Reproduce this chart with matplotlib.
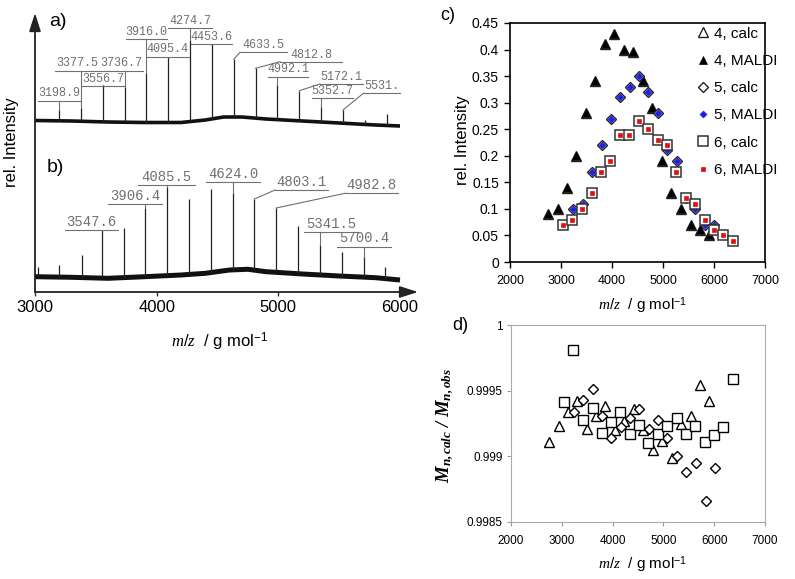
import numpy as np
import matplotlib
matplotlib.use('Agg')
import matplotlib.pyplot as plt
from matplotlib.ticker import FuncFormatter, MultipleLocator

plt.rcParams['font.family'] = ['Liberation Sans', 'DejaVu Sans']
plt.rcParams['mathtext.fontset'] = 'custom'
plt.rcParams['mathtext.rm'] = 'Liberation Sans'
plt.rcParams['mathtext.it'] = 'Liberation Serif:italic'
plt.rcParams['mathtext.bf'] = 'Liberation Serif:italic:bold'

# ---------------- data: spectra (a) and (b) ----------------
spec_a_base_mz = [3000, 3300, 3600, 3900, 4200, 4400, 4550, 4700, 4900, 5200, 5500, 5800, 6000]
spec_a_base = [171.5, 171, 170, 169.5, 169.5, 172, 175, 175, 173, 171, 169, 167, 166]
spec_a_peak_mz = [3198.9, 3377.5, 3556.7, 3736.7, 3916.0, 4095.4, 4274.7, 4453.6,
                  4633.5, 4812.8, 4992.1, 5172.1, 5352.7, 5531.0, 5710, 5890]
spec_a_peak_top = [182, 183.7, 207, 205.3, 218.7, 235.3, 252, 248,
                   232.7, 223.7, 207, 201.3, 185.3, 182, 172, 178]

spec_b_base_mz = [3000, 3300, 3600, 3900, 4200, 4400, 4600, 4750, 4900, 5200, 5500, 5800, 6000]
spec_b_base = [15.3, 14.7, 13.7, 15.3, 17, 18.7, 22, 22.7, 20.3, 18, 16, 14.3, 12]
spec_b_peak_mz = [3022, 3200, 3384, 3547.6, 3734, 3906.4, 4085.5, 4265, 4445,
                  4624.0, 4803.1, 4982.8, 5162, 5341.5, 5521, 5700.4, 5880]
spec_b_peak_top = [25, 27, 37, 62, 64, 84, 105, 93, 103, 99, 93, 84, 66, 47, 40, 35, 25]

# peak labels (text) with their label-bar extent (layout)
labels_a = ["3198.9", "3377.5", "3736.7", "3556.7", "3916.0", "4095.4", "4274.7",
            "4453.6", "4633.5", "4812.8", "4992.1", "5172.1", "5352.7", "5531."]
labels_a_x0 = [3022, 3164, 3530, 3384, 3748, 3918, 4096, 4279, 4685, 5014, 4912, 5342, 5274, 5699]
labels_a_x1 = [3370, 3530, 3890, 3737, 4082, 4262, 4452, 4622, 5068, 5521, 5247, 5699, 5611, 6000]
labels_a_y = [191.3, 221.3, 221.3, 206, 252.7, 235.3, 263.7, 247.7, 239.7, 230.3, 215.3, 208, 194.3, 198.7]

labels_b = ["3547.6", "3906.4", "4085.5", "4624.0", "4803.1", "4982.8", "5341.5", "5700.4"]
labels_b_x0 = [3247, 3603, 3849, 4405, 4973, 5548, 5211, 5485]
labels_b_x1 = [3685, 4041, 4315, 4849, 5411, 5986, 5658, 5923]
labels_b_y = [62, 88, 107, 110.3, 102, 98.7, 60.3, 45.3]

# ---------------- data: panel (c) and (d) ----------------
mz4 = [2750, 2945, 3115, 3300, 3490, 3675, 3855, 4040, 4230, 4420, 4600, 4790, 4980, 5165, 5345, 5540, 5725, 5900]
int4_calc = [0.09, 0.10, 0.14, 0.20, 0.28, 0.34, 0.41, 0.43, 0.40, 0.395, 0.34, 0.29, 0.19, 0.13, 0.10, 0.07, 0.06, 0.05]
int4_maldi = [0.09, 0.10, 0.14, 0.20, 0.28, 0.34, 0.41, 0.43, 0.40, 0.395, 0.34, 0.29, 0.19, 0.13, 0.10, 0.07, 0.06, 0.05]
ratio4 = [0.99911, 0.99923, 0.99934, 0.99942, 0.99921, 0.99931, 0.99938, 0.99920, 0.99927,
          0.99936, 0.99920, 0.99905, 0.99912, 0.99899, 0.99925, 0.99931, 0.99954, 0.99942]

mz5 = [3240, 3425, 3608, 3800, 3974, 4162, 4348, 4521, 4713, 4902, 5076, 5265, 5454, 5637, 5830, 6009]
int5_calc = [0.10, 0.11, 0.17, 0.22, 0.27, 0.31, 0.33, 0.35, 0.32, 0.28, 0.21, 0.19, 0.12, 0.10, 0.07, 0.07]
int5_maldi = [0.10, 0.11, 0.17, 0.22, 0.27, 0.31, 0.33, 0.35, 0.32, 0.28, 0.21, 0.19, 0.12, 0.10, 0.07, 0.07]
ratio5 = [0.99934, 0.99943, 0.99951, 0.99931, 0.99914, 0.99922, 0.99929, 0.99936, 0.99921,
          0.99928, 0.99914, 0.99900, 0.99888, 0.99895, 0.99866, 0.99891]

mz6 = [3040, 3225, 3415, 3605, 3785, 3970, 4155, 4335, 4520, 4705, 4900, 5075, 5262, 5452, 5630, 5815, 6005, 6178, 6365]
int6_calc = [0.07, 0.08, 0.10, 0.13, 0.17, 0.19, 0.24, 0.24, 0.265, 0.25, 0.23, 0.22, 0.17, 0.12, 0.11, 0.08, 0.06, 0.05, 0.04]
int6_maldi = [0.07, 0.08, 0.10, 0.13, 0.17, 0.19, 0.24, 0.24, 0.265, 0.25, 0.23, 0.22, 0.17, 0.12, 0.11, 0.08, 0.06, 0.05, 0.04]
ratio6 = [0.99941, 0.99981, 0.99928, 0.99937, 0.99918, 0.99926, 0.99934, 0.99917, 0.99924, 0.99910,
          0.99917, 0.99923, 0.99929, 0.99917, 0.99923, 0.99911, 0.99916, 0.99922, 0.99959]

# ---------------- figure ----------------
W, H = 795, 579
fig = plt.figure(figsize=(W / 100, H / 100), dpi=100)


def rect(l, t, r, b):
    return [l / W, 1 - b / H, (r - l) / W, (b - t) / H]


xlab = r'$\mathit{m/z}$  / g mol$^{\mathregular{-1}}$'

# ----- spectra -----
ax0 = fig.add_axes(rect(35, 13, 418, 292))
ax0.set_xlim(3000, 3000 + (418 - 35) / 121.67 * 1000)
ax0.set_ylim(0, 279)
for s in ax0.spines.values():
    s.set_visible(False)
ax0.set_yticks([])
ax0.set_xticks([3000, 4000, 5000, 6000])
ax0.tick_params(axis='x', direction='out', length=3, width=1, color='#333', labelsize=12, pad=3)
arrow = dict(arrowstyle='-|>,head_length=1.1,head_width=0.35', color='#222', lw=1.3, shrinkA=0, shrinkB=0)
ax0.annotate('', xy=(1, 0), xytext=(0, 0), xycoords='axes fraction', arrowprops=arrow)
ax0.annotate('', xy=(0, 1), xytext=(0, 0), xycoords='axes fraction', arrowprops=arrow)

for bx, by, pm, pt, lw in [(spec_a_base_mz, spec_a_base, spec_a_peak_mz, spec_a_peak_top, 2.6),
                           (spec_b_base_mz, spec_b_base, spec_b_peak_mz, spec_b_peak_top, 3.6)]:
    ax0.plot(bx, by, color='#111', lw=lw, solid_capstyle='butt')
    base_at = np.interp(pm, bx, by)
    ax0.vlines(pm, base_at, pt, color='#222', lw=0.9)

lab_col = '#707070'


def draw_labels(texts, x0s, x1s, ys, pm, pt, fs):
    for t, x0, x1, y in zip(texts, x0s, x1s, ys):
        i = int(np.argmin(np.abs(np.array(pm) - float(t))))
        px, ptop = pm[i], pt[i]
        jx = px if x0 <= px <= x1 else x0
        ax0.plot([px, jx], [ptop, y], color=lab_col, lw=0.8)
        ax0.plot([x0, x1], [y, y], color=lab_col, lw=0.8)
        ax0.text((x0 + x1) / 2, y + 1.2, t, ha='center', va='bottom', fontsize=fs,
                 family='Liberation Mono', color=lab_col)


draw_labels(labels_a, labels_a_x0, labels_a_x1, labels_a_y, spec_a_peak_mz, spec_a_peak_top, 8.5)
draw_labels(labels_b, labels_b_x0, labels_b_x1, labels_b_y, spec_b_peak_mz, spec_b_peak_top, 10)

fig.text(58 / W, 1 - 22 / H, 'a)', fontsize=14, ha='center', va='center')
fig.text(55 / W, 1 - 167 / H, 'b)', fontsize=14, ha='center', va='center')
fig.text(12 / W, 1 - 142 / H, 'rel. Intensity', rotation=90, fontsize=12, ha='center', va='center')
fig.text(220 / W, 1 - 342 / H, xlab, fontsize=12, ha='center', va='center')

# ----- panel c -----
ax1 = fig.add_axes(rect(510, 23, 765, 262))
ax1.plot(mz4, int4_calc, ls='none', marker='^', ms=7.5, mfc='white', mec='#222', mew=1.0, label='4, calc')
ax1.plot(mz4, int4_maldi, ls='none', marker='^', ms=6, mfc='black', mec='black', mew=0.5, label='4, MALDI')
ax1.plot(mz5, int5_calc, ls='none', marker='D', ms=5.5, mfc='white', mec='#222', mew=1.0, label='5, calc')
ax1.plot(mz5, int5_maldi, ls='none', marker='D', ms=3.5, mfc='#1f1fe0', mec='#1f1fe0', mew=0.5, label='5, MALDI')
ax1.plot(mz6, int6_calc, ls='none', marker='s', ms=7, mfc='white', mec='#333', mew=1.1, label='6, calc')
ax1.plot(mz6, int6_maldi, ls='none', marker='s', ms=3.5, mfc='#e01010', mec='#e01010', mew=0.5, label='6, MALDI')
ax1.set_xlim(2000, 7000)
ax1.set_ylim(0, 0.45)
ax1.xaxis.set_major_locator(MultipleLocator(1000))
ax1.yaxis.set_major_locator(MultipleLocator(0.05))
ax1.yaxis.set_major_formatter(FuncFormatter(lambda v, p: '%g' % round(v, 4)))
ax1.tick_params(axis='y', direction='out', length=4, width=1, labelsize=10, pad=4)
ax1.tick_params(axis='x', direction='out', length=4, width=1, labelsize=9, pad=5)
for s in ax1.spines.values():
    s.set_linewidth(1.2)
ax1.legend(loc='upper left', bbox_to_anchor=(0.733, 0.985), frameon=False, fontsize=11,
           borderpad=0, borderaxespad=0, handlelength=0.8, handletextpad=0.3,
           labelspacing=0.87, numpoints=1)
fig.text(448 / W, 1 - 15 / H, 'c)', fontsize=13, ha='center', va='center')
fig.text(462 / W, 1 - 140 / H, 'rel. Intensity', rotation=90, fontsize=12, ha='center', va='center')
fig.text(643 / W, 1 - 306 / H, xlab, fontsize=11, ha='center', va='center')

# ----- panel d -----
ax2 = fig.add_axes(rect(511, 325, 765, 522))
ax2.plot(mz4, ratio4, ls='none', marker='^', ms=7, mfc='white', mec='black', mew=1.0)
ax2.plot(mz5, ratio5, ls='none', marker='D', ms=4.8, mfc='white', mec='black', mew=1.0)
ax2.plot(mz6, ratio6, ls='none', marker='s', ms=6.5, mfc='white', mec='black', mew=1.0)
ax2.set_xlim(2000, 7000)
ax2.set_ylim(0.9985, 1.0)
ax2.xaxis.set_major_locator(MultipleLocator(1000))
ax2.yaxis.set_major_locator(MultipleLocator(0.0005))
ax2.yaxis.set_major_formatter(FuncFormatter(lambda v, p: '%g' % round(v, 5)))
ax2.tick_params(axis='both', direction='out', length=3, width=0.8, color='#999', labelsize=8.5)
ax2.tick_params(axis='y', pad=3)
ax2.tick_params(axis='x', pad=6)
for s in ax2.spines.values():
    s.set_linewidth(0.8)
    s.set_color('#aaa')
fig.text(460 / W, 1 - 325 / H, 'd)', fontsize=13, ha='center', va='center')
fig.text(445 / W, 1 - 425 / H, r'$\mathbf{M_{n,calc}\ /\ M_{n,obs}}$', rotation=90,
         fontsize=13.5, ha='center', va='center')
fig.text(643 / W, 1 - 565 / H, xlab, fontsize=11, ha='center', va='center')

fig.savefig('out.png', dpi=100)
